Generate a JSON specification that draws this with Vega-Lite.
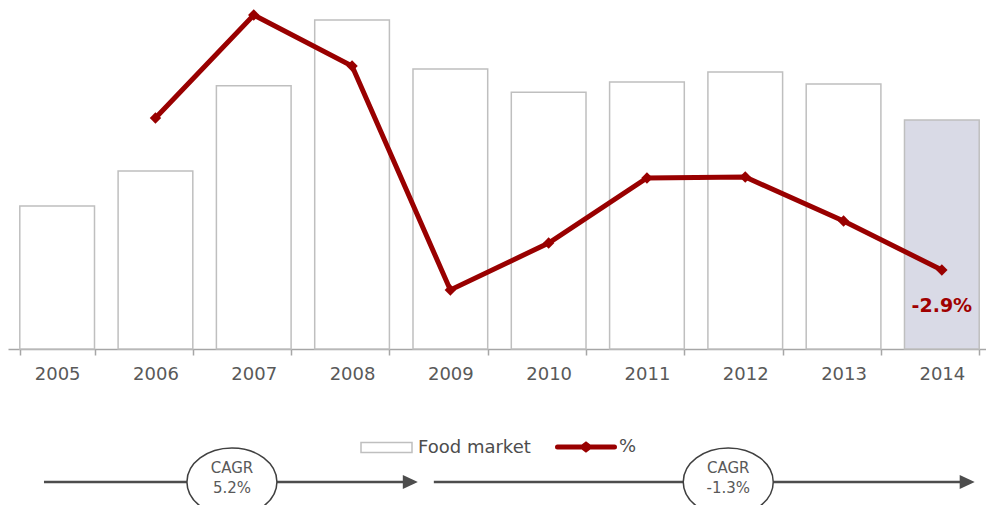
{
  "$schema": "https://vega.github.io/schema/vega-lite/v6.json",
  "width": 978,
  "height": 349,
  "autosize": {"type": "none"},
  "padding": {"left": 8, "top": 0, "right": 0, "bottom": 156},
  "config": {"view": {"stroke": null}, "font": "DejaVu Sans"},
  "datasets": {
    "main": [
      {"year": "2005", "market": 41.0, "pct": null, "label": null},
      {"year": "2006", "market": 51.0, "pct": 12.3, "label": null},
      {"year": "2007", "market": 75.4, "pct": 22.6, "label": null},
      {"year": "2008", "market": 94.3, "pct": 17.5, "label": null},
      {"year": "2009", "market": 80.2, "pct": -4.9, "label": null},
      {"year": "2010", "market": 73.6, "pct": -0.2, "label": null},
      {"year": "2011", "market": 76.5, "pct": 6.3, "label": null},
      {"year": "2012", "market": 79.4, "pct": 6.4, "label": null},
      {"year": "2013", "market": 75.9, "pct": 2.0, "label": null},
      {"year": "2014", "market": 65.6, "pct": -2.9, "label": "-2.9%"}
    ],
    "cagr": [
      {"start": 2004.866, "end": 2008.537, "head": 2008.593, "center": 2006.778, "text": "CAGR\n5.2%"},
      {"start": 2008.832, "end": 2014.202, "head": 2014.258, "center": 2011.827, "text": "CAGR\n-1.3%"}
    ]
  },
  "layer": [
    {
      "data": {"name": "main"},
      "mark": {"type": "bar", "strokeWidth": 1.5},
      "encoding": {
        "x": {
          "field": "year", "type": "nominal",
          "scale": {"type": "band", "domain": ["2005","2006","2007","2008","2009","2010","2011","2012","2013","2014"], "range": [0, 983], "paddingInner": 0.24, "paddingOuter": 0.12},
          "axis": {"title": null, "labelAngle": 0, "labelFont": "DejaVu Sans", "labelFontSize": 18, "labelColor": "#595959", "labelPadding": 10, "domainColor": "#a6a6a6", "domainWidth": 1.5, "tickColor": "#a6a6a6", "tickWidth": 1.5, "tickSize": 6, "tickBand": "extent"}
        },
        "y": {"field": "market", "type": "quantitative", "scale": {"domain": [0, 100]}, "axis": null},
        "fill": {"condition": {"test": "datum.year === '2014'", "value": "#d9dae6"}, "value": "#ffffff"},
        "stroke": {
          "datum": "Food market", "type": "nominal",
          "scale": {"domain": ["Food market"], "range": ["#bfbfbf"]},
          "legend": {"title": null, "orient": "none", "legendX": 352, "legendY": 421, "padding": 0, "symbolType": "M-1,-0.2H1V0.2H-1Z", "symbolSize": 2601, "symbolStrokeWidth": 1.5, "symbolFillColor": "#ffffff", "labelFont": "DejaVu Sans", "labelFontSize": 18, "labelColor": "#4d4d4d", "labelOffset": 5,
            "encode": {"symbols": {"update": {"fill": {"value": "#ffffff"}, "stroke": {"value": "#bfbfbf"}}}}}
        }
      }
    },
    {
      "data": {"name": "main"},
      "mark": {"type": "line", "strokeWidth": 5},
      "encoding": {
        "x": {"field": "year", "type": "nominal", "scale": {"type": "band", "domain": ["2005","2006","2007","2008","2009","2010","2011","2012","2013","2014"], "range": [0, 983], "paddingInner": 0.24, "paddingOuter": 0.12}, "axis": null},
        "y": {"field": "pct", "type": "quantitative", "scale": {"domain": [-10.8, 24.1]}, "axis": null},
        "stroke": {
          "datum": "%", "type": "nominal",
          "scale": {"domain": ["%"], "range": ["#990000"]},
          "legend": {"title": null, "orient": "none", "legendX": 547, "legendY": 416, "padding": 0, "symbolType": "M-1,0H1M-0.12,0L0,-0.09L0.12,0L0,0.09Z", "symbolSize": 3249, "symbolStrokeWidth": 5, "labelFont": "DejaVu Sans", "labelFontSize": 18, "labelColor": "#4d4d4d", "labelOffset": 2,
            "encode": {"symbols": {"update": {"stroke": {"value": "#990000"}, "fill": {"value": "#990000"}, "strokeCap": {"value": "round"}}}}}
        }
      }
    },
    {
      "data": {"name": "main"},
      "mark": {"type": "point", "shape": "diamond", "filled": true, "color": "#990000", "size": 130, "opacity": 1},
      "encoding": {
        "x": {"field": "year", "type": "nominal", "scale": {"type": "band", "domain": ["2005","2006","2007","2008","2009","2010","2011","2012","2013","2014"], "range": [0, 983], "paddingInner": 0.24, "paddingOuter": 0.12}, "axis": null},
        "y": {"field": "pct", "type": "quantitative", "scale": {"domain": [-10.8, 24.1]}, "axis": null}
      }
    },
    {
      "data": {"name": "main"},
      "transform": [{"filter": "datum.label != null"}],
      "mark": {"type": "text", "font": "DejaVu Sans", "fontSize": 19, "fontWeight": "bold", "color": "#a00000", "dy": 36, "baseline": "middle", "align": "center"},
      "encoding": {
        "x": {"field": "year", "type": "nominal", "scale": {"type": "band", "domain": ["2005","2006","2007","2008","2009","2010","2011","2012","2013","2014"], "range": [0, 983], "paddingInner": 0.24, "paddingOuter": 0.12}, "axis": null},
        "y": {"field": "pct", "type": "quantitative", "scale": {"domain": [-10.8, 24.1]}, "axis": null},
        "text": {"field": "label"}
      }
    },
    {
      "data": {"name": "cagr"},
      "mark": {"type": "rule", "strokeWidth": 2.5, "color": "#4d4d4d"},
      "encoding": {
        "x": {"field": "start", "type": "quantitative", "scale": {"domain": [2004.5, 2014.5], "range": [0, 983]}, "axis": null},
        "x2": {"field": "end"},
        "y": {"datum": -0.381, "type": "quantitative", "scale": {"domain": [0, 1]}, "axis": null}
      }
    },
    {
      "data": {"name": "cagr"},
      "mark": {"type": "point", "shape": "M1,0L-1,-0.93L-1,0.93Z", "size": 225, "filled": true, "color": "#4d4d4d", "opacity": 1},
      "encoding": {
        "x": {"field": "head", "type": "quantitative", "scale": {"domain": [2004.5, 2014.5], "range": [0, 983]}, "axis": null},
        "y": {"datum": -0.381, "type": "quantitative", "scale": {"domain": [0, 1]}, "axis": null}
      }
    },
    {
      "data": {"name": "cagr"},
      "mark": {"type": "point", "shape": "M-1,0C-1,-0.417,-0.552,-0.755,0,-0.755C0.552,-0.755,1,-0.417,1,0C1,0.417,0.552,0.755,0,0.755C-0.552,0.755,-1,0.417,-1,0Z", "size": 8100, "fill": "#ffffff", "stroke": "#404040", "strokeWidth": 1.5, "opacity": 1, "fillOpacity": 1},
      "encoding": {
        "x": {"field": "center", "type": "quantitative", "scale": {"domain": [2004.5, 2014.5], "range": [0, 983]}, "axis": null},
        "y": {"datum": -0.381, "type": "quantitative", "scale": {"domain": [0, 1]}, "axis": null}
      }
    },
    {
      "data": {"name": "cagr"},
      "mark": {"type": "text", "font": "DejaVu Sans", "fontSize": 15, "color": "#595959", "lineBreak": "\n", "lineHeight": 19.5, "baseline": "middle", "align": "center"},
      "encoding": {
        "x": {"field": "center", "type": "quantitative", "scale": {"domain": [2004.5, 2014.5], "range": [0, 983]}, "axis": null},
        "y": {"datum": -0.341, "type": "quantitative", "scale": {"domain": [0, 1]}, "axis": null},
        "text": {"field": "text"}
      }
    }
  ],
  "resolve": {"scale": {"x": "independent", "y": "independent", "stroke": "independent"}}
}
